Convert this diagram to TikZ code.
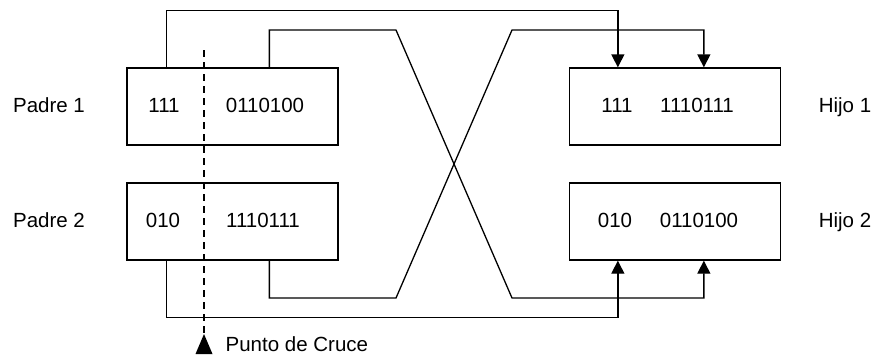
\documentclass[tikz,border=0pt]{standalone}
\usepackage{fontspec}
\setmainfont{Liberation Sans}
\usetikzlibrary{arrows.meta}
\begin{document}
\begin{tikzpicture}[x=1pt,y=-1pt,line width=1.3pt,
    font=\fontsize{20.5}{24}\selectfont,
    link/.style={-{Triangle[length=13pt,width=13pt]}}]

        \useasboundingbox (0,0) rectangle (877,360);

        \begin{scope}[every node/.style={draw,rectangle,minimum width=211pt,minimum height=77pt,inner sep=0pt}]
          \node (p1) at (232.5,106.5) {};
          \node (p2) at (232.5,221.5) {};
          \node (h1) at (675,106.5)   {};
          \node (h2) at (675,221.5)   {};
        \end{scope}

        \begin{scope}[every node/.style={anchor=base,inner sep=0pt}]
          \node (lp1) at (49,112.5)  {Padre 1};
          \node (lp2) at (49,227.5)  {Padre 2};
          \node (lh1) at (845,112.5) {Hijo 1};
          \node (lh2) at (845,227.5) {Hijo 2};
          \node (p1l) at (164,112.5) {111};
          \node (p1r) at (265,112.5) {0110100};
          \node (p2l) at (163,227.5) {010};
          \node (p2r) at (263,227.5) {1110111};
          \node (h1l) at (617,112.5) {111};
          \node (h1r) at (697,112.5) {1110111};
          \node (h2l) at (615,227.5) {010};
          \node (h2r) at (699,227.5) {0110100};
        \end{scope}

        \coordinate (x1) at (396,30);
        \coordinate (x2) at (512,298);
        \coordinate (x3) at (396,298);
        \coordinate (x4) at (512,30);

        \draw[link] ([xshift=40pt]p1.north west) -- ++(0,-57) -| ([xshift=49pt]h1.north west);
        \draw[link] ([xshift=143pt]p1.north west) |- (x1) -- (x2) -| ([xshift=135pt]h2.south west);
        \draw[link] ([xshift=143pt]p2.south west) |- (x3) -- (x4) -| ([xshift=135pt]h1.north west);
        \draw[link] ([xshift=40pt]p2.south west) -- ++(0,57) -| ([xshift=49pt]h2.south west);

        \coordinate (cuttop) at (204,50);
        \coordinate (cutapex) at (204,334);
        \draw[dash pattern=on 7pt off 5pt] (cuttop) -- (cutapex);
        \fill (cutapex) -- ++(8.5,20) -- ++(-17,0) -- cycle;
        \node[anchor=base west,inner sep=0pt] (cut) at (225,351) {Punto de Cruce};

      \end{tikzpicture}
\end{document}
